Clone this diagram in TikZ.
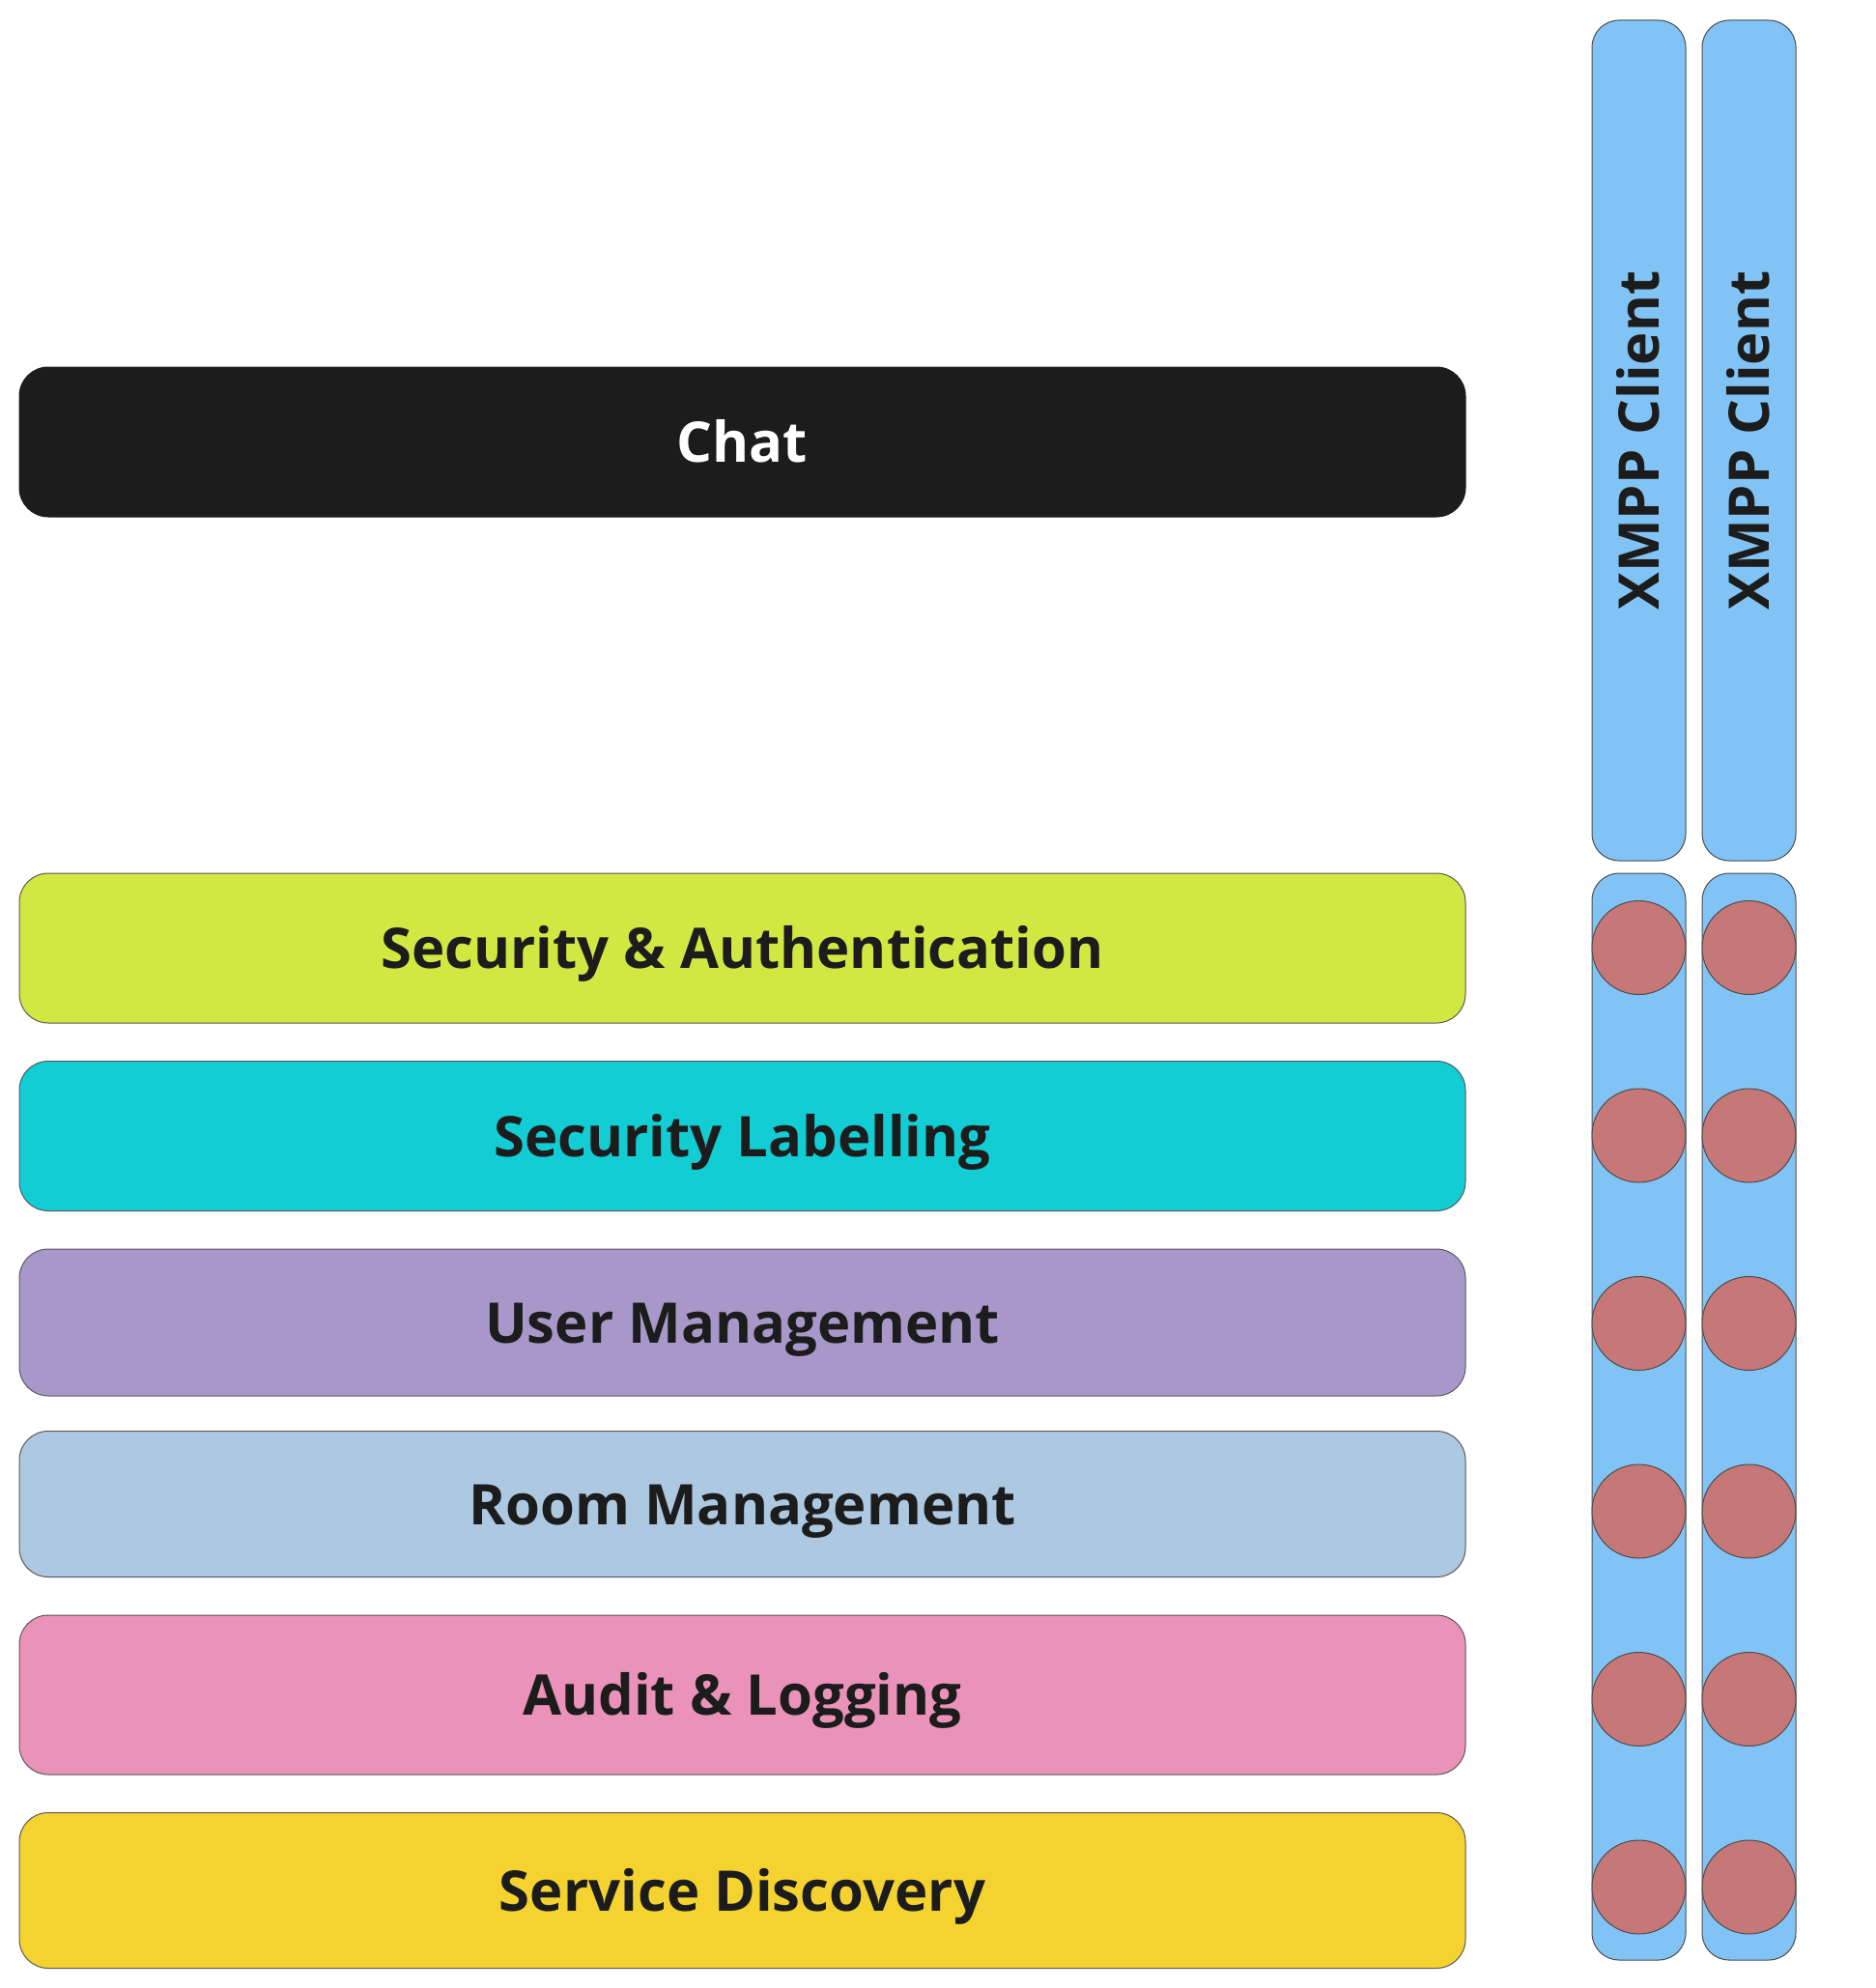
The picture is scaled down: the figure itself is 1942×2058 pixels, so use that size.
\documentclass[tikz,border=0pt]{standalone}
\usepackage{fontspec}
\setmainfont{Open Sans}
\usetikzlibrary{positioning}
\definecolor{inkblack}{HTML}{1C1C1C}
\definecolor{authgreen}{HTML}{D0E841}
\definecolor{labelcyan}{HTML}{13CDD4}
\definecolor{userpurple}{HTML}{A898CA}
\definecolor{roomblue}{HTML}{ADC9E1}
\definecolor{auditpink}{HTML}{EA92BA}
\definecolor{discoyellow}{HTML}{F4D330}
\definecolor{clientblue}{HTML}{82C3F5}
\definecolor{portred}{HTML}{C57877}
\tikzset{%
  layer/.style={rectangle,rounded corners=30pt,minimum width=1497pt,
    minimum height=155pt,draw=black!65,line width=1pt,text=inkblack,
    font=\fontsize{58}{69}\selectfont\bfseries,text height=42pt,text depth=0pt},
  client/.style={rectangle,rounded corners=28pt,fill=clientblue,
    draw=black!70,line width=1pt,text=inkblack,
    font=\fontsize{58}{69}\selectfont\bfseries,text height=42pt,text depth=0pt},
  port/.style={circle,minimum size=97pt,inner sep=0pt,fill=portred,
    draw=black!70,line width=1pt}
}

\begin{document}
\begin{tikzpicture}[x=1pt,y=-1pt,node distance=38.5pt]
    \useasboundingbox (0,0) rectangle (1942,2058);
    \node [layer,fill=inkblack,draw=inkblack,text=white] (chat) at (768.5,457.5) {Chat};
    \node [layer,fill=authgreen] (auth) [below=368pt of chat] {Security \& Authentication};
    \node [layer,fill=labelcyan] (label) [below=of auth] {Security Labelling};
    \node [layer,fill=userpurple,minimum height=152pt] (user) [below=of label] {User Management};
    \node [layer,fill=roomblue,minimum height=151pt] (room) [below=35.5pt of user] {Room Management};
    \node [layer,fill=auditpink,minimum height=165pt] (audit) [below=of room] {Audit \& Logging};
    \node [layer,fill=discoyellow,minimum height=161pt] (disco) [below=of audit] {Service Discovery};

    \node [client,rotate=90,minimum width=870pt,minimum height=97pt] (clientA) at (1696.5,456) {XMPP Client};
    \node [client,rotate=90,minimum width=870pt,minimum height=97pt] (clientB) at (1810.5,456) {XMPP Client};
    \node [client,minimum width=97pt,minimum height=1125pt] (streamA) at (1696.5,1466.5) {};
    \node [client,minimum width=97pt,minimum height=1125pt] (streamB) at (1810.5,1466.5) {};

    \node [port] (portA1) [below=28.5pt of streamA.north] {};
    \node [port] (portA2) [below=96.5pt of portA1] {};
    \node [port] (portA3) [below=96.5pt of portA2] {};
    \node [port] (portA4) [below=96.5pt of portA3] {};
    \node [port] (portA5) [below=96.5pt of portA4] {};
    \node [port] (portA6) [below=96.5pt of portA5] {};
    \node [port] (portB1) [below=28.5pt of streamB.north] {};
    \node [port] (portB2) [below=96.5pt of portB1] {};
    \node [port] (portB3) [below=96.5pt of portB2] {};
    \node [port] (portB4) [below=96.5pt of portB3] {};
    \node [port] (portB5) [below=96.5pt of portB4] {};
    \node [port] (portB6) [below=96.5pt of portB5] {};
  \end{tikzpicture}
\end{document}
